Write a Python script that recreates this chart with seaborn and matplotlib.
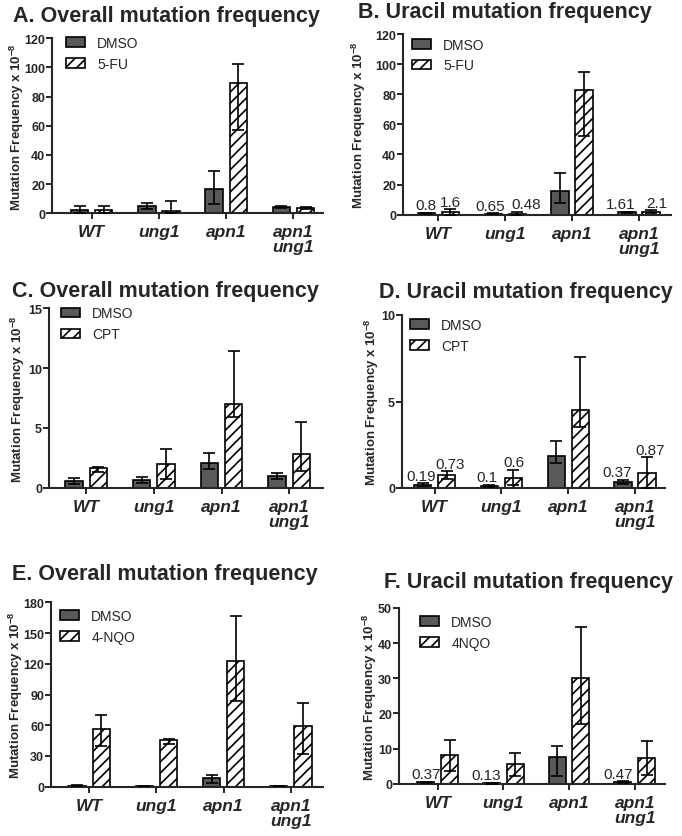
import matplotlib
matplotlib.use("Agg")
import matplotlib.pyplot as plt
from matplotlib.patches import Patch
import seaborn as sns
import pandas as pd

W, H = 682, 837

strains = ["WT", "ung1", "apn1", "apn1 ung1"]
strain_ticks = ["WT", "ung1", "apn1", "apn1\nung1"]

# A. overall mutation frequency, DMSO vs 5-FU (mean, lower, upper error end)
a_dmso = [2.3, 5.0, 16.9, 4.1]
a_dmso_lo = [0.5, 2.7, 6.6, 3.4]
a_dmso_hi = [5.3, 7.3, 29.3, 4.8]
a_drug = [2.3, 1.8, 89.4, 3.7]
a_drug_lo = [0.0, 0.0, 57.4, 3.0]
a_drug_hi = [5.3, 8.2, 102.2, 4.3]

# B. uracil mutation frequency, DMSO vs 5-FU
b_dmso = [0.8, 0.65, 15.9, 1.61]
b_dmso_lo = [0.3, 0.4, 8.0, 1.2]
b_dmso_hi = [1.3, 0.9, 27.7, 2.0]
b_drug = [1.6, 0.48, 83.0, 2.1]
b_drug_lo = [0.0, 0.0, 52.0, 1.4]
b_drug_hi = [3.6, 1.8, 94.8, 2.8]
b_dmso_txt = ["0.8", "0.65", "", "1.61"]
b_drug_txt = ["1.6", "0.48", "", "2.1"]

# C. overall mutation frequency, DMSO vs CPT
c_dmso = [0.56, 0.61, 2.06, 1.0]
c_dmso_lo = [0.28, 0.36, 1.56, 0.72]
c_dmso_hi = [0.78, 0.92, 2.9, 1.2]
c_drug = [1.62, 1.95, 6.99, 2.79]
c_drug_lo = [1.28, 0.7, 5.88, 1.4]
c_drug_hi = [1.7, 3.2, 11.42, 5.5]

# D. uracil mutation frequency, DMSO vs CPT
d_dmso = [0.19, 0.1, 1.87, 0.37]
d_dmso_lo = [0.11, 0.03, 1.43, 0.26]
d_dmso_hi = [0.27, 0.17, 2.7, 0.48]
d_drug = [0.73, 0.6, 4.53, 0.87]
d_drug_lo = [0.5, 0.15, 3.55, 0.0]
d_drug_hi = [0.96, 1.06, 7.55, 1.77]
d_dmso_txt = ["0.19", "0.1", "", "0.37"]
d_drug_txt = ["0.73", "0.6", "", "0.87"]

# E. overall mutation frequency, DMSO vs 4-NQO
e_dmso = [1.0, 0.4, 8.1, 0.8]
e_dmso_lo = [0.6, 0.2, 3.9, 0.5]
e_dmso_hi = [1.4, 0.6, 11.7, 1.1]
e_drug = [56.0, 45.2, 122.4, 59.6]
e_drug_lo = [39.7, 41.7, 83.3, 31.9]
e_drug_hi = [70.3, 46.9, 166.7, 81.7]

# F. uracil mutation frequency, DMSO vs 4NQO
f_dmso = [0.37, 0.13, 7.5, 0.47]
f_dmso_lo = [0.2, 0.05, 2.2, 0.3]
f_dmso_hi = [0.6, 0.2, 10.7, 0.65]
f_drug = [8.1, 5.5, 30.2, 7.3]
f_drug_lo = [3.7, 2.3, 17.1, 2.5]
f_drug_hi = [12.5, 8.7, 44.6, 12.1]
f_dmso_txt = ["0.37", "0.13", "", "0.47"]

sns.set_style("ticks")
plt.rcParams["font.family"] = ["Liberation Sans", "DejaVu Sans"]
plt.rcParams["mathtext.fontset"] = "custom"
plt.rcParams["mathtext.rm"] = "Liberation Sans:bold"
plt.rcParams["mathtext.bf"] = "Liberation Sans:bold"
plt.rcParams["mathtext.default"] = "bf"
plt.rcParams["hatch.linewidth"] = 1.2
plt.rcParams["hatch.color"] = "black"

DMSO_COLOR = "#595959"
HATCH = "///"

# layout in pixels: axes box (left, top, right, bottom), title (x, baseline),
# legend (dx, dy from axes corner), ylabel offset from the y axis,
# sideways nudges of the value labels
panels = [
    dict(title="A. Overall mutation frequency", drug="5-FU", ymax=120, step=20,
         dmso=(a_dmso, a_dmso_lo, a_dmso_hi), trt=(a_drug, a_drug_lo, a_drug_hi),
         box=(52, 39.3, 323, 214.3), xlim=(-0.59, 3.44), tpos=(13, 21.7),
         leg=(14, 4.5), ylab=35),
    dict(title="B. Uracil mutation frequency", drug="5-FU", ymax=120, step=20,
         dmso=(b_dmso, b_dmso_lo, b_dmso_hi), trt=(b_drug, b_drug_lo, b_drug_hi),
         dmso_txt=b_dmso_txt, trt_txt=b_drug_txt,
         nudge=([0, -3, 0, -6], [0, 9, 0, 6]),
         box=(403, 35, 671, 215.7), xlim=(-0.53, 3.48), tpos=(357.7, 18.3),
         leg=(9, 10.5), ylab=44),
    dict(title="C. Overall mutation frequency", drug="CPT", ymax=15, step=5,
         dmso=(c_dmso, c_dmso_lo, c_dmso_hi), trt=(c_drug, c_drug_lo, c_drug_hi),
         box=(49, 309.3, 323, 488.7), xlim=(-0.55, 3.5), tpos=(11.7, 296.7),
         leg=(12, 5), ylab=31),
    dict(title="D. Uracil mutation frequency", drug="CPT", ymax=10, step=5,
         dmso=(d_dmso, d_dmso_lo, d_dmso_hi), trt=(d_drug, d_drug_lo, d_drug_hi),
         dmso_txt=d_dmso_txt, trt_txt=d_drug_txt,
         nudge=([-2, -3, 0, -6], [3, 0, 0, 3]),
         box=(402, 316, 665, 489), xlim=(-0.49, 3.45), tpos=(379, 298),
         leg=(8, 9.8), ylab=30),
    dict(title="E. Overall mutation frequency", drug="4-NQO", ymax=180, step=30,
         dmso=(e_dmso, e_dmso_lo, e_dmso_hi), trt=(e_drug, e_drug_lo, e_drug_hi),
         box=(51, 603.3, 323, 787.7), xlim=(-0.57, 3.48), tpos=(11.7, 580),
         leg=(9, 13.7), ylab=35),
    dict(title="F. Uracil mutation frequency", drug="4NQO", ymax=50, step=10,
         dmso=(f_dmso, f_dmso_lo, f_dmso_hi), trt=(f_drug, f_drug_lo, f_drug_hi),
         dmso_txt=f_dmso_txt, nudge=([0, -5, 0, -5], [0, 0, 0, 0]),
         box=(399, 609, 665, 784.7), xlim=(-0.59, 3.46), tpos=(384, 588),
         leg=(21, 14), ylab=29),
]

fig = plt.figure(figsize=(W / 100, H / 100), dpi=100)

for p in panels:
    l, t, r, b = p["box"]
    ax = fig.add_axes([l / W, 1 - b / H, (r - l) / W, (b - t) / H])
    df = pd.DataFrame({
        "strain": strains * 2,
        "treatment": ["DMSO"] * 4 + [p["drug"]] * 4,
        "freq": list(p["dmso"][0]) + list(p["trt"][0]),
    })
    sns.barplot(data=df, x="strain", y="freq", hue="treatment", order=strains,
                hue_order=["DMSO", p["drug"]], palette=[DMSO_COLOR, "white"],
                saturation=1, errorbar=None, width=0.72, gap=0.28,
                edgecolor="black", linewidth=1.2, legend=False, ax=ax)
    for bar in ax.containers[1]:
        bar.set_hatch(HATCH)

    nudges = p.get("nudge", ([0] * 4, [0] * 4))
    for cont, (vals, lo, hi), txt, nd in zip(ax.containers, [p["dmso"], p["trt"]],
                                             [p.get("dmso_txt"), p.get("trt_txt")], nudges):
        xs = [bar.get_x() + bar.get_width() / 2 for bar in cont]
        yerr = [[v - a for v, a in zip(vals, lo)], [h - v for v, h in zip(vals, hi)]]
        ax.errorbar(xs, vals, yerr=yerr, fmt="none", ecolor="black",
                    elinewidth=1.2, capsize=4, capthick=1.2, zorder=3)
        if txt:
            for x, h, s, n in zip(xs, hi, txt, nd):
                if s:
                    ax.annotate(s, (x, h), xytext=(n * 0.72, 0.5), textcoords="offset points",
                                ha="center", va="bottom", fontsize=11)

    ax.set_xlim(p["xlim"])
    ax.set_ylim(0, p["ymax"])
    ax.set_yticks(range(0, p["ymax"] + 1, p["step"]))
    ax.set_xticks(range(4))
    ax.set_xticklabels(strain_ticks, fontstyle="italic", fontweight="bold",
                       fontsize=12.5, linespacing=1.0)
    for lbl in ax.get_yticklabels():
        lbl.set_fontweight("bold")
    ax.tick_params(axis="y", length=4, width=1.4, labelsize=9, pad=1)
    ax.tick_params(axis="x", length=4, width=1.4, pad=4)
    sns.despine(ax=ax)
    for s in ("left", "bottom"):
        ax.spines[s].set_linewidth(1.5)

    ax.set_xlabel("")
    ax.set_ylabel(r"Mutation Frequency x 10$^{-8}$", fontsize=9.5, fontweight="bold")
    ax.yaxis.label.set_va("center")
    ax.yaxis.set_label_coords(-p["ylab"] / (r - l), 0.5)

    handles = [Patch(facecolor=DMSO_COLOR, edgecolor="black", linewidth=1.2, label="DMSO"),
               Patch(facecolor="white", edgecolor="black", linewidth=1.2, hatch=HATCH,
                     label=p["drug"])]
    dx, dy = p["leg"]
    ax.legend(handles=handles, loc="upper left", frameon=False, fontsize=10,
              bbox_to_anchor=(dx / (r - l), 1 - (dy - 7) / (b - t)),
              borderpad=0, borderaxespad=0, handlelength=1.4, handleheight=0.7,
              handletextpad=0.85, labelspacing=0.5)

    fig.text(p["tpos"][0] / W, 1 - p["tpos"][1] / H, p["title"], fontsize=15.5,
             fontweight="bold", ha="left", va="baseline")

fig.savefig("out.png", dpi=100)
